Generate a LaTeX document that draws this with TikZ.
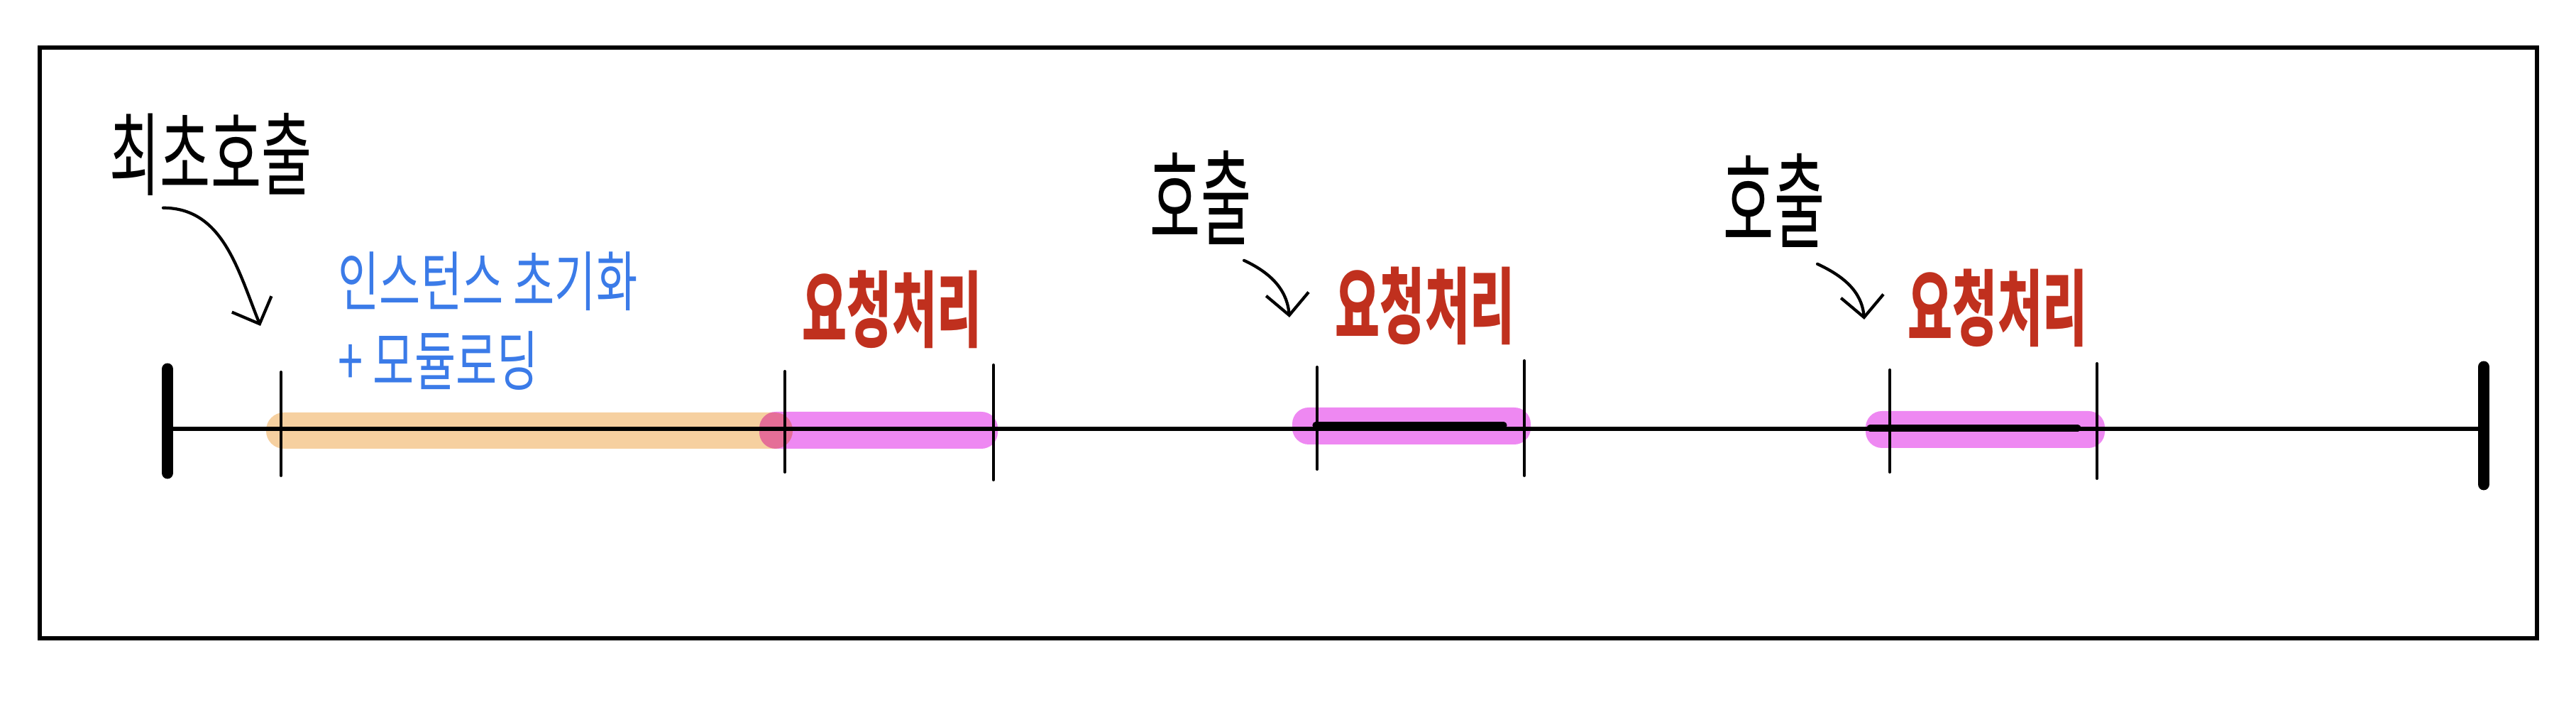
\documentclass[tikz,border=0pt]{standalone}
\usepackage{fontspec}
\usepackage{tikz}
\usetikzlibrary{arrows.meta,positioning}
\newfontfamily\kr{Noto Sans CJK KR}
\definecolor{CallRed}{RGB}{192,48,30}
\definecolor{NoteBlue}{RGB}{59,123,232}
\definecolor{InitOrange}{RGB}{246,208,160}
\definecolor{ReqMagenta}{RGB}{238,136,242}
\newcommand{\hw}[2][1.45]{\scalebox{1}[#1]{#2}}

\begin{document}
\begin{tikzpicture}[
       >={Straight Barb[length=3mm,width=6mm]}, black, line cap=round,
       every node/.style={inner sep=0pt, font=\kr},
       callnote/.style={font=\kr\fontsize{22}{26}\selectfont},
       reqnote/.style={text=CallRed, font=\kr\bfseries\fontsize{19.5}{22}\selectfont},
       initnote/.style={text=NoteBlue, font=\kr\fontsize{18}{32}\selectfont, align=left},
       band/.style={fill=#1, rounded corners=2.3mm},
       tickline/.style={line width=1.1pt},
       endbar/.style={line width=4.8pt},
       callarrow/.style={->, line width=1.2pt}]
	\useasboundingbox (0,0) rectangle (36.3,10);

	%% Frame
	\draw[line width=1.7pt, line cap=butt] (0.56,1.01) rectangle (35.75,9.33);

	%% Phases
	\fill[band=InitOrange, rounded corners=2.5mm] (3.75,3.68) rectangle (11.17,4.19);
	\begin{scope}[blend mode=multiply]
	\fill[band=ReqMagenta] (10.70,3.68) rectangle (14.06,4.20);
	\fill[band=ReqMagenta] (18.21,3.74) rectangle (21.57,4.26);
	\fill[band=ReqMagenta] (26.29,3.69) rectangle (29.66,4.21);
	\end{scope}

	%% Time line
	\draw[line width=1.5pt] (2.36,3.96) -- (35.00,3.96);
	\draw[endbar] (2.36,3.34) -- (2.36,4.80);
	\draw[endbar] (35.00,3.18) -- (35.00,4.83);
	\foreach \x/\t/\b in {3.96/4.76/3.30, 11.06/4.77/3.35, 14.00/4.86/3.24,
	                      18.56/4.83/3.39, 21.48/4.92/3.30, 26.63/4.79/3.35, 29.55/4.88/3.26}
	   \draw[tickline] (\x,\b) -- (\x,\t);
	\draw[line width=2.6pt] (18.54,4.01) -- (21.19,4.01);
	\draw[line width=2.6pt] (26.35,3.97) -- (29.28,3.97);

	%% Labels
	\node[callnote] (first) at (2.97,7.83) {\hw[1.65]{최초호출}};
	\node[initnote, anchor=west] (init) at (4.76,5.48) {\hw{인스턴스 초기화}\\\hw{+ 모듈로딩}};
	\node[reqnote] (req1) at (12.57,5.64) {\hw[1.7]{요청처리}};
	\node[reqnote] (req2) at (20.08,5.69) {\hw[1.7]{요청처리}};
	\node[reqnote] (req3) at (28.15,5.66) {\hw[1.7]{요청처리}};
	\node[callnote] (call2) at (16.92,7.22) {\hw[1.9]{호출}};
	\node[callnote] (call3) at (25.00,7.18) {\hw[1.9]{호출}};

	%% Arrows
	\coordinate (tip1) at (3.67,5.41);
	\coordinate (tip2) at (18.17,5.53);
	\coordinate (tip3) at (26.27,5.50);
	\draw[callarrow] ([shift={(-0.67,-0.17)}]first.south) to[out=0,in=112] (tip1);
	\draw[callarrow] ([shift={(0.61,-0.22)}]call2.south) to[out=-25,in=95] (tip2);
	\draw[callarrow] ([shift={(0.61,-0.23)}]call3.south) to[out=-25,in=95] (tip3);
\end{tikzpicture}
\end{document}
